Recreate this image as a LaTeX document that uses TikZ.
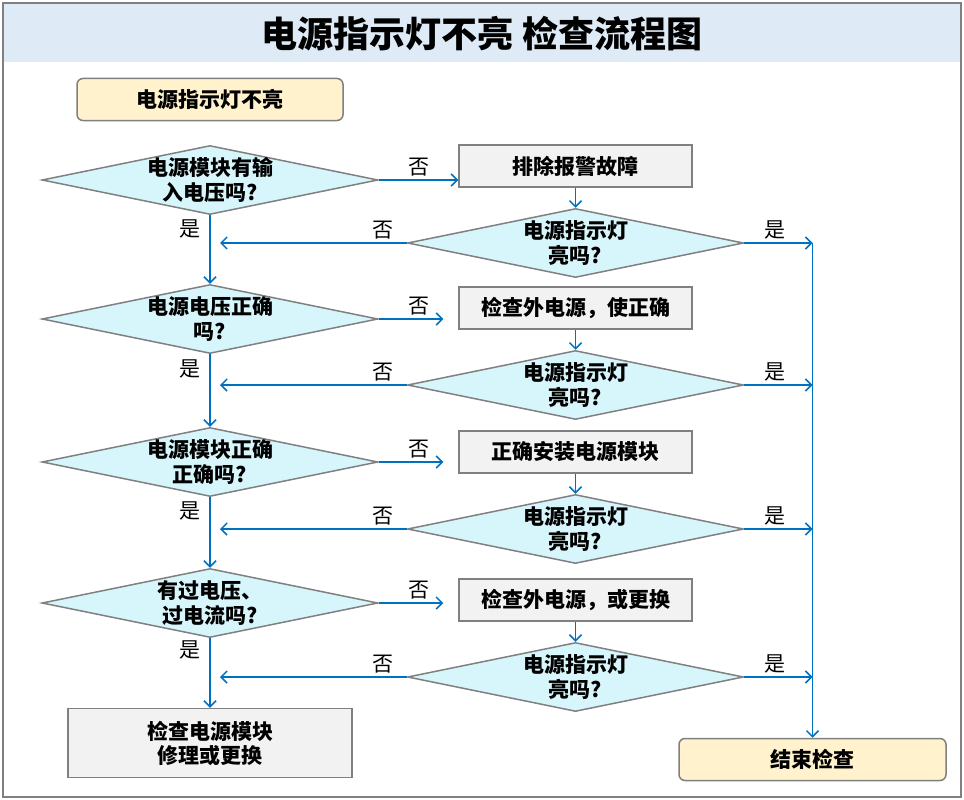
\documentclass[tikz,border=0pt]{standalone}
\usepackage{fontspec}
\setmainfont{Noto Sans CJK SC}
\usetikzlibrary{arrows.meta, positioning, shapes.geometric}

\definecolor{flowblue}{HTML}{0070C0}
\definecolor{framegray}{HTML}{808080}
\definecolor{titleband}{HTML}{DEEAF6}
\definecolor{askfill}{HTML}{D6F6FC}
\definecolor{stepfill}{HTML}{F2F2F2}
\definecolor{endfill}{HTML}{FFF2CC}

\tikzset{
  ask/.style={diamond, aspect=5, inner xsep=-20pt, inner ysep=-10pt, draw=framegray,
    line width=1.5pt, fill=askfill, minimum width=336pt, minimum height=69pt,
    align=center, font=\fontsize{21}{25}\selectfont\bfseries},
  stepbox/.style={rectangle, draw=framegray, line width=1.5pt, fill=stepfill,
    minimum width=233pt, minimum height=42pt, align=center,
    font=\fontsize{21}{24}\selectfont\bfseries},
  term/.style={rectangle, rounded corners=6pt, draw=framegray, line width=1.5pt,
    fill=endfill, minimum height=42pt, font=\fontsize{21}{24}\selectfont\bfseries},
  flow/.style={draw=flowblue, line width=1.5pt, -{Straight Barb[length=6pt,width=12pt]}},
  yn/.style={font=\fontsize{21}{21}\selectfont, text=black}
}

\begin{document}
\begin{tikzpicture}[x=1pt, y=-1pt, node distance=20pt]
  \useasboundingbox (0,0) rectangle (964,800);
  \draw[framegray, line width=1.5pt] (3,3) rectangle (961,797);
  \fill[titleband] (4,4) rectangle (960,62);
  \node[font=\fontsize{36}{36}\selectfont\bfseries] (title) at (482,34) {电源指示灯不亮 检查流程图};

  \node[term, minimum width=266pt] (st) at (210,99.5) {电源指示灯不亮};

  % left column: questions
  \node[ask] (q1) at (210,180) {电源模块有输\\入电压吗?};
  \node[ask] (q2) at (210,319) {电源电压正确\\吗?};
  \node[ask] (q3) at (210,462) {电源模块正确\\正确吗?};
  \node[ask] (q4) at (210,603) {有过电压、\\过电流吗?};
  \node[stepbox, minimum width=284pt, minimum height=69pt] (rep) at (210,743) {检查电源模块\\修理或更换};

  % right column: fixes and checks
  \node[stepbox] (fix1) at (575.5,166) {排除报警故障};
  \node[ask, below=of fix1] (chk1) {电源指示灯\\亮吗?};
  \node[stepbox] (fix2) at (575.5,308) {检查外电源，使正确};
  \node[ask, below=of fix2] (chk2) {电源指示灯\\亮吗?};
  \node[stepbox] (fix3) at (575.5,452) {正确安装电源模块};
  \node[ask, below=of fix3] (chk3) {电源指示灯\\亮吗?};
  \node[stepbox] (fix4) at (575.5,600) {检查外电源，或更换};
  \node[ask, below=of fix4] (chk4) {电源指示灯\\亮吗?};

  \node[term, minimum width=267pt] (fin) at (812.5,759.5) {结束检查};

  % yes: down the left column
  \draw[flow] (q1) -- node[yn, left, pos=0.2, xshift=-5pt]{是} (q2);
  \draw[flow] (q2) -- node[yn, left, pos=0.2, xshift=-5pt]{是} (q3);
  \draw[flow] (q3) -- node[yn, left, pos=0.2, xshift=-5pt]{是} (q4);
  \draw[flow] (q4) -- node[yn, left, pos=0.17, xshift=-5pt]{是} (rep);

  % no: over to the fixes
  \draw[flow] (q1.east) -- node[yn, above]{否} (q1.east -| fix1.west);
  \draw[flow, shorten >=15pt] (q2.east) -- node[yn, above]{否} (q2.east -| fix2.west);
  \draw[flow, shorten >=15pt] (q3.east) -- node[yn, above]{否} (q3.east -| fix3.west);
  \draw[flow, shorten >=15pt] (q4.east) -- node[yn, above]{否} (q4.east -| fix4.west);

  \foreach \i in {1,2,3,4} {
    \draw[flow] (fix\i) -- (chk\i);
    \draw[flow, shorten >=10pt] (chk\i.west) -- node[yn, above, pos=0.12]{否} (chk\i.west -| q1.south);
    \draw[flow] (chk\i.east) -- node[yn, above, pos=0.45]{是} (chk\i.east -| fin.north);
  }
  \draw[flow] (chk1.east -| fin.north) -- (fin);
\end{tikzpicture}
\end{document}
